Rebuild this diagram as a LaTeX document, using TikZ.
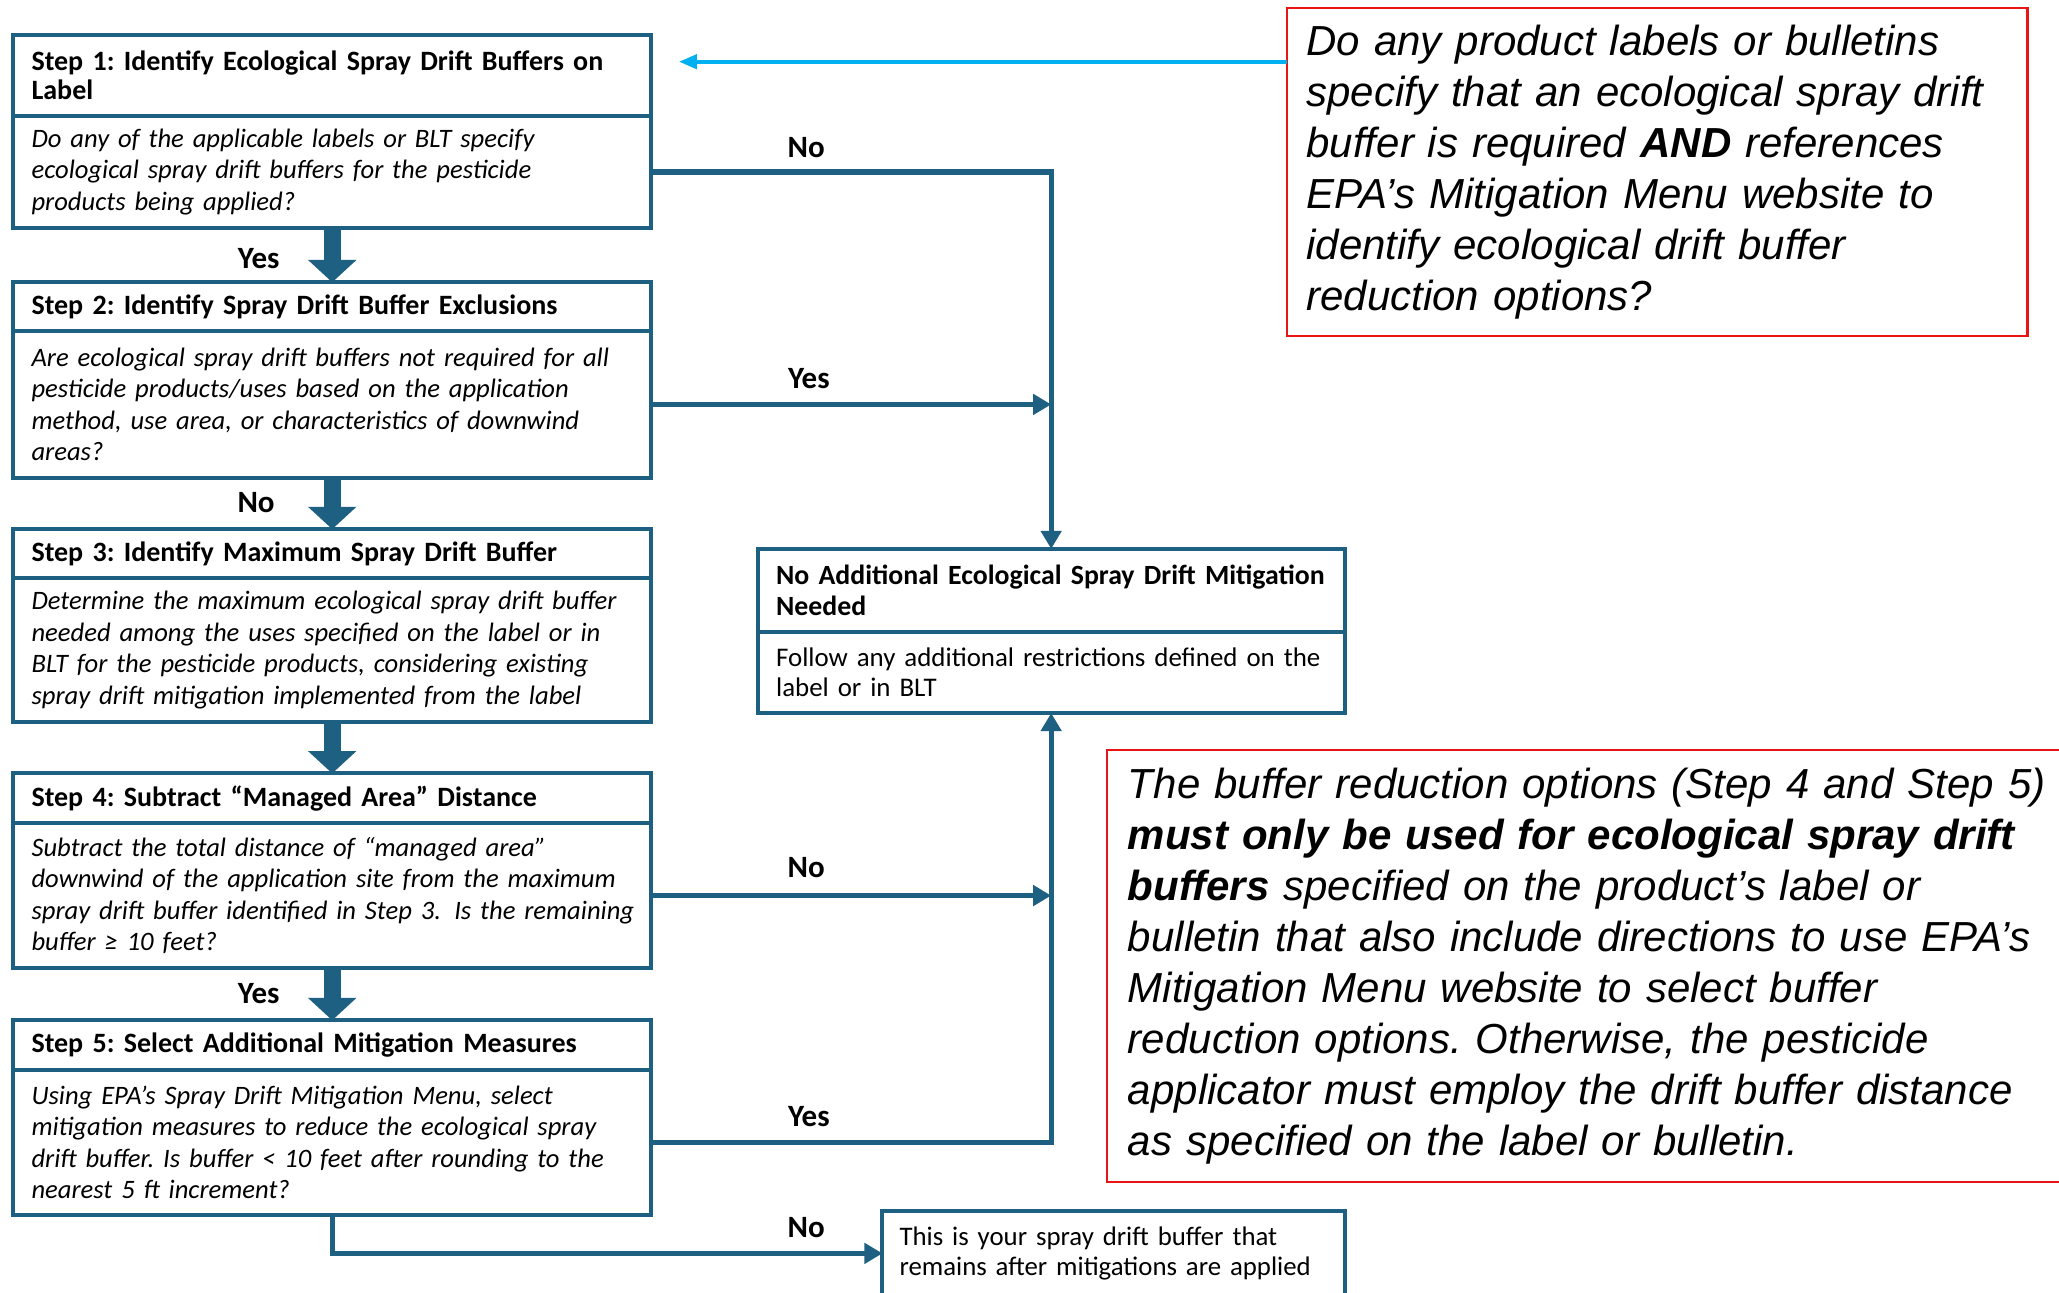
\documentclass[tikz,border=0pt]{standalone}
\usepackage{fontspec}
\setmainfont{Carlito}[WordSpace=0.8]
\newfontfamily\notefont{Liberation Sans}
\usetikzlibrary{arrows.meta}
\definecolor{flowblue}{RGB}{30,96,130}
\definecolor{cyanline}{RGB}{0,176,240}
\definecolor{notered}{RGB}{235,20,20}
\newcommand\stTitleFont{\fontsize{14pt}{14.4pt}\selectfont\bfseries}
\newcommand\stBodyFont{\fontsize{13.3pt}{15.76pt}\selectfont\itshape}
\newcommand\stPlainFont{\fontsize{13.45pt}{15.1pt}\selectfont}
\newcommand\stFinFont{\fontsize{13.4pt}{15.1pt}\selectfont}
\newcommand\stNaTitleFont{\fontsize{13.9pt}{15.1pt}\selectfont\bfseries}
\newcommand\stNoteFont{\notefont\fontsize{21pt}{25.5pt}\selectfont\itshape}
\newcommand\ml[1]{\mbox{#1}}
\begin{document}
\frenchspacing
\begin{tikzpicture}[x=0.6566pt,y=-0.6566pt,
  box/.style={draw=flowblue, line width=2pt, anchor=north west, align=left, inner ysep=0pt, outer sep=0pt},
  stephead/.style={box, minimum width=319.11pt, text width=300.7pt, inner xsep=9.19pt, font=\stTitleFont},
  stepbody/.style={box, minimum width=319.11pt, text width=300.7pt, inner xsep=9.19pt, font=\stBodyFont},
  nahead/.style={box, minimum width=293.5pt, text width=275.1pt, inner xsep=9.19pt, font=\stNaTitleFont},
  nabody/.style={box, minimum width=293.5pt, text width=275.1pt, inner xsep=9.19pt, font=\stPlainFont},
  finbox/.style={box, minimum width=231.1pt, text width=214.1pt, inner xsep=8.54pt, font=\stFinFont},
  note/.style={draw=notered, line width=1.2pt, anchor=north west, align=left, inner ysep=0pt, outer sep=0pt, font=\stNoteFont},
  lbl/.style={font=\bfseries\fontsize{15.5pt}{16pt}\selectfont, inner sep=0pt},
  bigarrow/.style={draw=flowblue, line width=8.5pt, -{Triangle[width=23.6pt,length=11.2pt]}},
  conn/.style={draw=flowblue, line width=2.6pt, -{Triangle[width=10pt,length=9pt]}},
  cyanarrow/.style={draw=cyanline, line width=2pt, -{Triangle[width=7pt,length=9pt]}}
]
\fill[white] (0,0) rectangle (1568,984);
\useasboundingbox (0,0) rectangle (1568,984);

% Step boxes
\node[stephead, minimum height=40.05pt] (s1h) at (10,27) {\ml{Step 1: Identify Ecological Spray Drift Buffers on}\\\ml{Label}};
\node[stepbody, minimum height=56.47pt] (s1b) at (s1h.south west) {\ml{Do any of the applicable labels or BLT specify}\\\ml{ecological spray drift buffers for the pesticide}\\\ml{products being applied?}};

\node[stephead, minimum height=24.29pt] (s2h) at (10,215) {\ml{Step 2: Identify Spray Drift Buffer Exclusions}};
\node[stepbody, minimum height=73.54pt] (s2b) at (s2h.south west) {\ml{Are ecological spray drift buffers not required for all}\\\ml{pesticide products/uses based on the application}\\\ml{method, use area, or characteristics of downwind}\\\ml{areas?}};

\node[stephead, minimum height=24.29pt] (s3h) at (10,403) {\ml{Step 3: Identify Maximum Spray Drift Buffer}};
\node[stepbody, minimum height=72.23pt] (s3b) at (s3h.south west) {\ml{Determine the maximum ecological spray drift buffer}\\\ml{needed among the uses specified on the label or in}\\\ml{BLT for the pesticide products, considering existing}\\\ml{spray drift mitigation implemented from the label}};

\node[stephead, minimum height=24.95pt] (s4h) at (10,589) {\ml{Step 4: Subtract “Managed Area” Distance}};
\node[stepbody, minimum height=72.23pt] (s4b) at (s4h.south west) {\ml{Subtract the total distance of “managed area”}\\\ml{downwind of the application site from the maximum}\\\ml{spray drift buffer identified in Step 3.\enspace Is the remaining}\\\ml{buffer ≥ 10 feet?}};

\node[stephead, minimum height=24.95pt] (s5h) at (10,777) {\ml{Step 5: Select Additional Mitigation Measures}};
\node[stepbody, minimum height=72.23pt] (s5b) at (s5h.south west) {\ml{Using EPA’s Spray Drift Mitigation Menu, select}\\\ml{mitigation measures to reduce the ecological spray}\\\ml{drift buffer. Is buffer < 10 feet after rounding to the}\\\ml{nearest 5 ft increment?}};

% Outcome boxes
\node[nahead, minimum height=41.37pt] (nah) at (577,418) {\ml{No Additional Ecological Spray Drift Mitigation}\\\ml{Needed}};
\node[nabody, minimum height=40.71pt] (na) at (nah.south west) {\ml{Follow any additional restrictions defined on the}\\\ml{label or in BLT}};
\node[finbox, minimum height=42.68pt] (fin) at (672,922) {\ml{This is your spray drift buffer that}\\\ml{remains after mitigations are applied}};

% Notes
\node[note, minimum width=370.3pt, text width=350.6pt, inner xsep=9.85pt, minimum height=164.15pt] (note1) at (980,6) {\ml{Do any product labels or bulletins}\\\ml{specify that an ecological spray drift}\\\ml{buffer is required \textbf{AND} references}\\\ml{EPA’s Mitigation Menu website to}\\\ml{identify ecological drift buffer}\\\ml{reduction options?}};
\node[note, minimum width=483.9pt, text width=462.9pt, inner xsep=10.5pt, minimum height=216pt] (note2) at (843,571) {\ml{The buffer reduction options (Step 4 and Step 5)}\\\ml{\textbf{must only be used for ecological spray drift}}\\\ml{\textbf{buffers} specified on the product’s label or}\\\ml{bulletin that also include directions to use EPA’s}\\\ml{Mitigation Menu website to select buffer}\\\ml{reduction options. Otherwise, the pesticide}\\\ml{applicator must employ the drift buffer distance}\\\ml{as specified on the label or bulletin.}};

% Main flow arrows
\draw[bigarrow] (s1b.south) -- (s2h.north);
\draw[bigarrow] (s2b.south) -- (s3h.north);
\draw[bigarrow] (s3b.south) -- (s4h.north);
\draw[bigarrow] (s4b.south) -- (s5h.north);

% Side connectors
\coordinate (j2) at (s2b.east -| nah.north);
\coordinate (j4) at (s4b.east -| nah.north);
\draw[conn] (s1b.east) -| (nah.north);
\draw[conn] (s2b.east) -- (j2);
\draw[conn] (s4b.east) -- (j4);
\draw[conn] (s5b.east) -| (na.south);
\draw[conn] (s5b.south) |- (fin.west);

% Cyan arrow
\coordinate (c1) at (517,47);
\draw[cyanarrow] (note1.west |- c1) -- (c1);

% Labels
\node[lbl] (y1) at (197,197) {Yes};
\node[lbl] (n2) at (195,383) {No};
\node[lbl] (y4) at (197,757) {Yes};
\node[lbl] (n1) at (614,112) {No};
\node[lbl] (y2) at (616,288) {Yes};
\node[lbl] (n4) at (614,661) {No};
\node[lbl] (y5) at (616,850) {Yes};
\node[lbl] (n5) at (614,935) {No};
\end{tikzpicture}
\end{document}
